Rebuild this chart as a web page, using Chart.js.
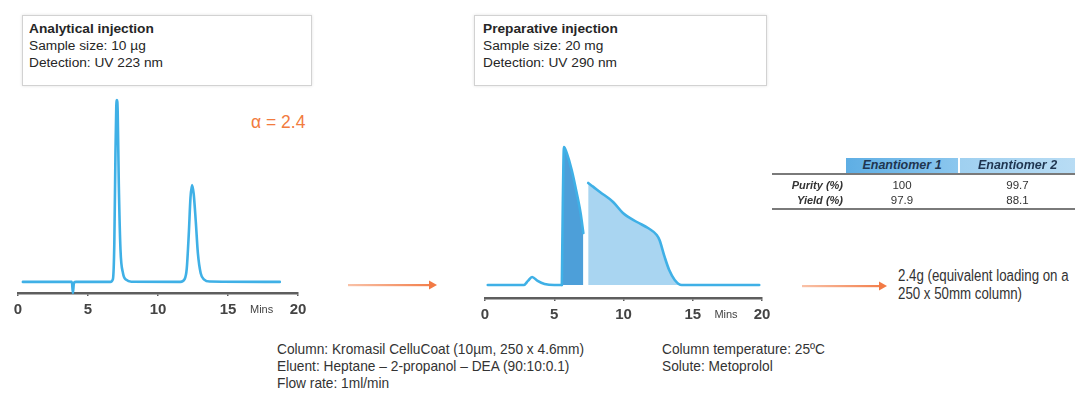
<!DOCTYPE html>
<html>
<head>
<meta charset="utf-8">
<script src="https://cdn.jsdelivr.net/npm/chart.js@4.4.1/dist/chart.umd.min.js"></script>
<style>
  html,body{margin:0;padding:0;}
  body{width:1075px;height:400px;position:relative;background:#fff;overflow:hidden;font-family:"Liberation Sans",Arial,sans-serif;}
  .abs{position:absolute;}
  .box{position:absolute;box-sizing:border-box;border:1px solid #d2d2d2;box-shadow:0 0 3px rgba(0,0,0,0.12);background:#fff;padding-top:5px;}
  .box .txt{transform-origin:0 0;}
  .box .txt div{font-size:12px;line-height:17px;color:#262626;white-space:nowrap;}
  .box .t{font-weight:bold;color:#1a1a1a;}
  .note{position:absolute;white-space:nowrap;color:#333;transform-origin:0 0;}
  .bottom{font-size:15px;line-height:17px;}
  .side{font-size:16px;line-height:18px;}
  .cell{position:absolute;box-sizing:border-box;text-align:center;font-size:11px;white-space:nowrap;}
</style>
</head>
<body>

<div class="box" style="left:22px;top:15px;width:290px;height:71px;padding-left:6px;">
  <div class="txt" id="boxA"><div class="t" id="titleA"></div><div id="sizeA"></div><div id="detA"></div></div>
</div>
<div class="box" style="left:474px;top:15px;width:293px;height:71px;padding-left:8px;">
  <div class="txt" id="boxB"><div class="t" id="titleB"></div><div id="sizeB"></div><div id="detB"></div></div>
</div>

<div class="abs" id="alpha" style="left:251px;top:112px;font-size:17.5px;color:#f27b3e;white-space:nowrap;"></div>

<canvas id="chartA" class="abs" style="left:8px;top:85px;"></canvas>
<canvas id="chartB" class="abs" style="left:475px;top:130px;"></canvas>

<svg class="abs" style="left:340px;top:277px" width="105" height="16">
  <defs><linearGradient id="ga" gradientUnits="userSpaceOnUse" x1="8" y1="0" x2="97" y2="0"><stop offset="0" stop-color="#f9c2a8"/><stop offset="1" stop-color="#f27a45"/></linearGradient></defs>
  <rect x="8" y="7" width="83" height="2.2" fill="url(#ga)"/>
  <polygon points="89,3.5 97,8 89,12.5" fill="#f27a45"/>
</svg>
<svg class="abs" style="left:795px;top:278px" width="100" height="16">
  <defs><linearGradient id="gb" gradientUnits="userSpaceOnUse" x1="7" y1="0" x2="92" y2="0"><stop offset="0" stop-color="#f9c2a8"/><stop offset="1" stop-color="#f27a45"/></linearGradient></defs>
  <rect x="7" y="7" width="79" height="2.2" fill="url(#gb)"/>
  <polygon points="84,3.5 92,8 84,12.5" fill="#f27a45"/>
</svg>

<div id="table"></div>

<div class="note side" id="loadNote" style="left:898px;top:267px;"></div>
<div class="note bottom" id="condL" style="left:277px;top:340px;"></div>
<div class="note bottom" id="condR" style="left:662px;top:340px;"></div>

<script>
// ---------- data ----------
const analyticalTitle = ["Analytical injection", "Sample size: 10 µg", "Detection: UV 223 nm"];
const preparativeTitle = ["Preparative injection", "Sample size: 20 mg", "Detection: UV 290 nm"];
const alphaText = "α = 2.4";
const xTicksMin = 0, xTicksMax = 20, xTickStep = 5;
const minsText = "Mins";
const minsAt = 17.4;

// analytical chromatogram (time in min, signal in % of scale)
const timeA   = [0.35, 3.7, 3.85, 3.92, 4.0, 4.15, 6.6, 6.78, 6.88, 6.96, 7.02, 7.07, 7.12, 7.2, 7.32, 7.5, 7.75, 8.1, 11.6, 11.9, 12.05, 12.2, 12.32, 12.43, 12.55, 12.7, 12.85, 13.05, 13.3, 13.7, 18.7];
const signalA = [5.6, 5.6, 5.6, 0, 5.2, 5.6, 5.6, 7, 25, 70, 94, 97.5, 92, 55, 22, 10, 6.6, 5.7, 5.6, 7, 12, 30, 48, 54.5, 50, 36, 20, 10, 6.8, 5.8, 5.6];

// preparative chromatogram
const baselineB = 8.2;
const timeB1   = [0.2, 2.8, 3.1, 3.4, 3.8, 4.3, 5.0, 5.55];
const signalB1 = [8.2, 8.2, 10.8, 13.3, 10.8, 8.9, 8.2, 8.2];
const timeP1   = [5.55, 5.62, 5.7, 5.9, 6.26, 6.62, 6.9, 7.1];
const signalP1 = [8.2, 60, 95.6, 91.8, 81, 66.5, 53.8, 41.1];
const timeP2   = [7.45, 7.8, 8.3, 9.25, 9.96, 10.97, 11.77, 12.4, 12.6, 12.97, 13.3, 13.7, 14.2, 19.8];
const signalP2 = [72.8, 70.5, 67.1, 60.8, 53.8, 48.1, 44.3, 39.9, 36.7, 26.0, 17.7, 11.4, 8.2, 8.2];

// table
const tableCols = ["Enantiomer 1", "Enantiomer 2"];
const tableRows = ["Purity (%)", "Yield (%)"];
const purity = [100, 99.7];
const yieldPct = [97.9, 88.1];

const loadNote = ["2.4g (equivalent loading on a", "250 x 50mm column)"];
const condLeft = ["Column: Kromasil CelluCoat (10µm, 250 x 4.6mm)", "Eluent: Heptane – 2-propanol – DEA (90:10:0.1)", "Flow rate: 1ml/min"];
const condRight = ["Column temperature: 25ºC", "Solute: Metoprolol"];

// ---------- text ----------
["titleA","sizeA","detA"].forEach((id,i)=>document.getElementById(id).textContent = analyticalTitle[i]);
["titleB","sizeB","detB"].forEach((id,i)=>document.getElementById(id).textContent = preparativeTitle[i]);
document.getElementById('alpha').textContent = alphaText;

function fillLines(id, lines){
  const el = document.getElementById(id);
  lines.forEach(l=>{const d=document.createElement('div'); d.textContent=l; el.appendChild(d);});
}
fillLines('loadNote', loadNote);
fillLines('condL', condLeft);
fillLines('condR', condRight);

// table
(function(){
  const t = document.getElementById('table');
  const colX = [846, 960], colW = [112, 115];
  const colBg = ['linear-gradient(90deg,#5eaee4,#8cc7ee)', 'linear-gradient(90deg,#9fd0f0,#b8dcf4)'];
  const add = (txt, style, cls) => { const d=document.createElement('div'); d.className=cls||'cell'; d.textContent=txt; d.setAttribute('style', style); t.appendChild(d); return d; };
  tableCols.forEach((c,i)=>add(c, `left:${colX[i]}px;top:158px;width:${colW[i]}px;height:15px;line-height:15px;background:${colBg[i]};font-weight:bold;font-style:italic;font-size:12.5px;color:#1f3550;`));
  add('', 'position:absolute;left:772px;top:173px;width:303px;height:2px;background:#7a7a7a;', 'abs');
  add('', 'position:absolute;left:772px;top:208px;width:303px;height:2px;background:#7a7a7a;', 'abs');
  const rowY = [179, 194];
  const vals = [purity, yieldPct];
  tableRows.forEach((r,i)=>{
    add(r, `left:766px;top:${rowY[i]}px;width:77px;height:13px;line-height:13px;text-align:right;font-weight:bold;font-style:italic;font-size:11px;color:#333;`);
    vals[i].forEach((v,j)=>add(String(v), `left:${colX[j]}px;top:${rowY[i]}px;width:${colW[j]}px;height:13px;line-height:13px;color:#333;font-size:11.5px;`));
  });
})();

// ---------- charts ----------
const lineColor = '#3fb0e6';
const darkFill = '#4d9fd9';
const lightFill = '#a9d5f1';
const pts = (xs, ys) => xs.map((x,i)=>({x, y: ys[i]}));

const minsPlugin = {
  id: 'mins',
  afterDraw(chart){
    const {ctx} = chart; const x = chart.scales.x;
    ctx.save();
    ctx.font = '11px "Liberation Sans", Arial, sans-serif';
    ctx.fillStyle = '#444';
    ctx.textAlign = 'center';
    ctx.textBaseline = 'middle';
    ctx.fillText(minsText, x.getPixelForValue(minsAt), x.top + 17);
    ctx.restore();
  }
};

function makeChart(id, w, h, datasets){
  const c = document.getElementById(id);
  c.width = w; c.height = h; c.style.width = w+'px'; c.style.height = h+'px';
  return new Chart(c, {
    type: 'line',
    data: { datasets },
    options: {
      responsive: false,
      animation: false,
      events: [],
      layout: { padding: { top: 10, left: 10, right: 10, bottom: 0 } },
      plugins: { legend: { display: false }, tooltip: { enabled: false } },
      elements: { point: { radius: 0 }, line: { tension: 0.4, cubicInterpolationMode: 'monotone', borderWidth: 2.6, borderColor: lineColor, borderCapStyle: 'round', borderJoinStyle: 'round' } },
      scales: {
        x: {
          type: 'linear', min: xTicksMin, max: xTicksMax,
          grid: { display: true, drawOnChartArea: false, drawTicks: true, tickLength: 3, color: '#5e5e5e', lineWidth: 1.5 },
          border: { display: true, color: '#5e5e5e', width: 2.5 },
          ticks: { stepSize: xTickStep, padding: 5, color: '#444', font: { family: '"Liberation Sans", Arial, sans-serif', size: 15, weight: 'bold' } },
          afterFit: s => { s.height = 30; s.paddingLeft = 0; s.paddingRight = 0; }
        },
        y: { display: false, min: 0, max: 100 }
      }
    },
    plugins: [minsPlugin]
  });
}

makeChart('chartA', 300, 238, [
  { data: pts(timeA, signalA), fill: false, clip: false }
]);

makeChart('chartB', 297, 198, [
  { data: pts(timeB1, signalB1), fill: false, clip: false },
  { data: pts(timeP1, signalP1), fill: { value: baselineB }, backgroundColor: darkFill, clip: false },
  { data: pts(timeP2, signalP2), fill: { value: baselineB }, backgroundColor: lightFill, clip: false }
]);

// ---------- text fitting ----------
function fit(groupIds, refText, target, font){
  const cv = document.createElement('canvas').getContext('2d');
  cv.font = font;
  const s = target / cv.measureText(refText).width;
  groupIds.forEach(id => document.getElementById(id).style.transform = `scaleX(${s})`);
}
fit(['condL','condR'], condRight[0], 163, '15px "Liberation Sans"');
fit(['loadNote'], loadNote[1], 124, '16px "Liberation Sans"');
fit(['boxA','boxB'], analyticalTitle[2], 134, '12px "Liberation Sans"');
</script>
</body>
</html>
